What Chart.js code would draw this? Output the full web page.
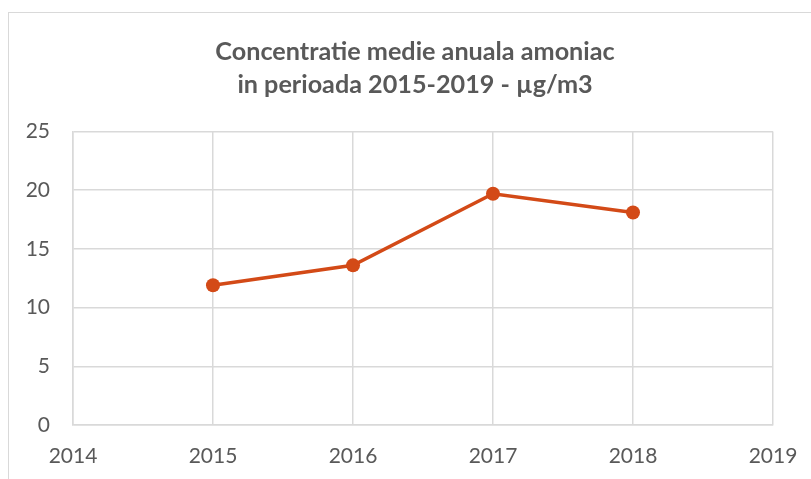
<!DOCTYPE html>
<html>
<head>
<meta charset="utf-8">
<script src="https://cdn.jsdelivr.net/npm/chart.js@4"></script>
<style>
  html, body { margin: 0; padding: 0; background: #fff; overflow: hidden; }
  #wrap { position: relative; width: 811px; height: 479px; }
  #frame {
    position: absolute; left: 8px; top: 12px; width: 900px; height: 600px;
    border-top: 1.5px solid #d9d9d9; border-left: 1.5px solid #d9d9d9;
    pointer-events: none;
  }
  canvas { position: absolute; left: 0; top: 0; }
</style>
</head>
<body>
<div id="wrap">
  <canvas id="chart" width="811" height="479"></canvas>
  <div id="frame"></div>
</div>
<script>
// 데이터
const titleLines = ['Concentratie medie anuala amoniac', 'in perioada 2015-2019 - µg/m3'];
const years = [2015, 2016, 2017, 2018];
const values = [11.9, 13.6, 19.7, 18.1];
const xRange = [2014, 2019];
const yRange = [0, 25];
const yStep = 5;

const textColor = '#595959';
const gridColor = '#d9d9d9';
const lineColor = '#d34a17';

// 제목 가운데 정렬 (차트 프레임 기준)
const titleShift = {
	id: 'titleShift',
	afterLayout(chart) {
		if (chart.titleBlock) {
			chart.titleBlock.left = 57;
			chart.titleBlock.right = 773;
		}
	}
};

let setChartConfig = () => {
	return {
		type: 'line',
		data: {
			datasets: [{
				label: 'amoniac',
				data: years.map((y, i) => ({ x: y, y: values[i] })),
				borderColor: lineColor,
				backgroundColor: lineColor,
				borderWidth: 3.5,
				pointRadius: 7,
				pointBorderWidth: 0,
				pointBackgroundColor: lineColor,
				tension: 0,
				fill: false
			}]
		},
		options: {
			responsive: false,
			animation: false,
			layout: { padding: { left: 13, right: 38, top: 0, bottom: 0 } },
			plugins: {
				legend: { display: false },
				tooltip: { enabled: false },
				title: {
					display: true,
					text: titleLines,
					color: textColor,
					font: { family: 'Lato', size: 25.2, weight: 'bold', lineHeight: 33 / 25.2 },
					padding: { top: 35, bottom: 30.5 }
				}
			},
			scales: {
				x: {
					type: 'linear',
					min: xRange[0],
					max: xRange[1],
					afterFit: (s) => {
						s.height = 54;
						s.paddingLeft = 0;
						s.paddingRight = 0;
					},
					ticks: {
						stepSize: 1,
						color: textColor,
						font: { family: 'Lato', size: 21 },
						padding: 19,
						callback: (v) => String(v)
					},
					grid: { color: gridColor, lineWidth: 1.5, drawTicks: false },
					border: { color: gridColor, width: 1.5 }
				},
				y: {
					min: yRange[0],
					max: yRange[1],
					afterFit: (s) => { s.width = 60; },
					ticks: {
						stepSize: yStep,
						color: textColor,
						font: { family: 'Lato', size: 21 },
						padding: 23
					},
					grid: { color: gridColor, lineWidth: 1.5, drawTicks: false },
					border: { color: gridColor, width: 1.5 }
				}
			}
		},
		plugins: [titleShift]
	};
};

new Chart(document.getElementById('chart'), setChartConfig());
</script>
</body>
</html>
